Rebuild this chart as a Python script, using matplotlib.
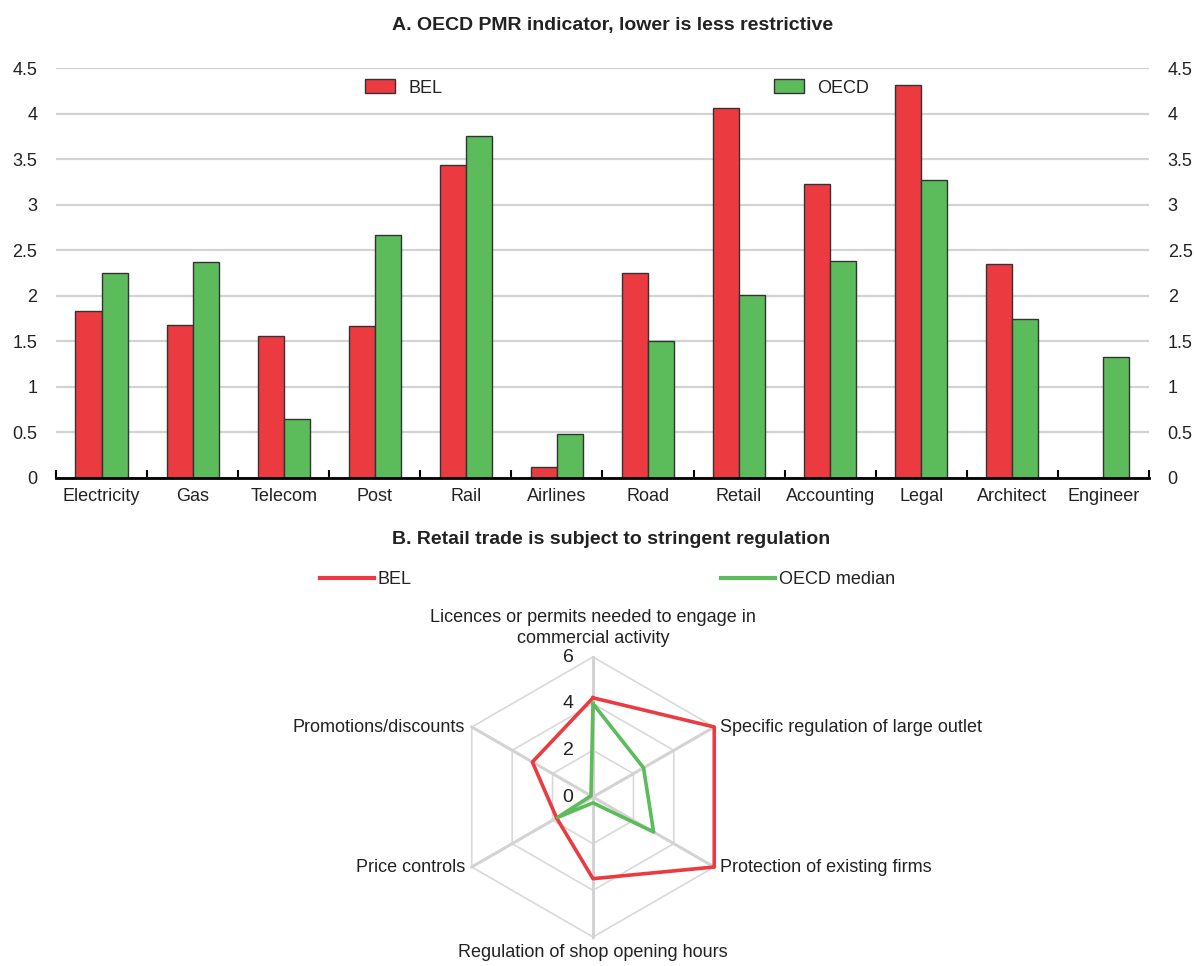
import numpy as np
import matplotlib
matplotlib.use("Agg")
import matplotlib.pyplot as plt
from matplotlib.patches import Patch
from matplotlib.lines import Line2D

plt.rcParams['font.family'] = ['Liberation Sans Narrow', 'Liberation Sans', 'DejaVu Sans']
plt.rcParams['font.size'] = 13

# Datos panel A: indicador PMR por sector
sectores = ["Electricity", "Gas", "Telecom", "Post", "Rail", "Airlines",
            "Road", "Retail", "Accounting", "Legal", "Architect", "Engineer"]
pmr_bel = [1.83, 1.68, 1.56, 1.67, 3.44, 0.12, 2.25, 4.06, 3.23, 4.31, 2.35, 0.0]
pmr_oecd = [2.25, 2.37, 0.65, 2.67, 3.75, 0.48, 1.50, 2.01, 2.38, 3.27, 1.75, 1.33]
ticks_y = [0, 0.5, 1, 1.5, 2, 2.5, 3, 3.5, 4, 4.5]
etiquetas_y = ["0", "0.5", "1", "1.5", "2", "2.5", "3", "3.5", "4", "4.5"]

# Datos panel B: regulacion del comercio minorista
ejes_radar = ["Licences or permits needed to engage in\ncommercial activity",
              "Specific regulation of large outlet",
              "Protection of existing firms",
              "Regulation of shop opening hours",
              "Price controls",
              "Promotions/discounts"]
retail_bel = [4.25, 6.0, 6.0, 3.5, 1.8, 3.0]
retail_oecd = [4.0, 2.5, 3.0, 0.25, 1.75, 0.1]
niveles = [0, 2, 4, 6]

rojo = "#EC3A41"
verde = "#5CBB5A"
gris = "#D3D3D3"
texto_c = "#222222"

fig = plt.figure(figsize=(11.94, 9.66), dpi=100)

# ======================================================
# Panel A: barras
# ======================================================
ax = fig.add_axes([0.0469, 0.5052, 0.9154, 0.4244])
x = np.arange(len(sectores))
ancho = 0.286
ax.bar(x - ancho/2, pmr_bel, ancho, color=rojo, edgecolor="#333333", linewidth=1.0, zorder=3)
ax.bar(x + ancho/2, pmr_oecd, ancho, color=verde, edgecolor="#333333", linewidth=1.0, zorder=3)
ax.set_xlim(-0.5, len(sectores) - 0.5)
ax.set_ylim(0, 4.5)
ax.set_yticks(ticks_y)
ax.set_yticklabels(etiquetas_y)
ax.yaxis.grid(True, color=gris, linewidth=1.6, zorder=0)
ax.set_axisbelow(True)
ax.set_xticks(x)
ax.set_xticklabels(sectores)
ax.set_xticks(np.arange(len(sectores) + 1) - 0.5, minor=True)
ax.tick_params(axis="x", which="major", length=0, pad=7, labelcolor=texto_c)
ax.tick_params(axis="x", which="minor", direction="in", length=6, width=1.5, color="black")
ax.tick_params(axis="y", left=False, right=False, labelleft=True, labelright=True,
               pad=10, labelcolor=texto_c)
for lado in ["top", "left", "right"]:
    ax.spines[lado].set_visible(False)
ax.spines["bottom"].set_linewidth(2.0)
ax.spines["bottom"].set_zorder(4)

fig.text(613/1194, 0.974, "A. OECD PMR indicator, lower is less restrictive",
         ha="center", va="center", fontweight="bold", fontsize=14, color=texto_c)

for nombre, color, xl in [("BEL", rojo, 365/1194), ("OECD", verde, 774/1194)]:
    leg = fig.legend(handles=[Patch(facecolor=color, edgecolor="#333333", linewidth=1.0, label=nombre)],
                     loc="center left", bbox_to_anchor=(xl, 1 - 88/966), frameon=False,
                     borderpad=0, borderaxespad=0, handlelength=1.65, handleheight=0.83,
                     handletextpad=0.75, fontsize=13, labelcolor=texto_c)

# ======================================================
# Panel B: radar
# ======================================================
fig.text(611/1194, 1 - 540/966, "B. Retail trade is subject to stringent regulation",
         ha="center", va="center", fontweight="bold", fontsize=14, color=texto_c)

for nombre, color, xl in [("BEL", rojo, 320/1194), ("OECD median", verde, 721/1194)]:
    fig.legend(handles=[Line2D([], [], color=color, linewidth=3.0, label=nombre)],
               loc="center left", bbox_to_anchor=(xl, 1 - 580/966), frameon=False,
               borderpad=0, borderaxespad=0, handlelength=3.0, handletextpad=0.2,
               fontsize=13, labelcolor=texto_c)

axr = fig.add_axes([453/1194, 29/966, 280/1194, 280/966], projection="polar")
axr.set_theta_offset(np.pi/2)
axr.set_theta_direction(-1)
axr.set_ylim(0, 6)
axr.set_axis_off()

angulos = np.arange(len(ejes_radar)) * 2*np.pi/len(ejes_radar)
cerrado = np.append(angulos, angulos[0])

for r in niveles[1:]:
    axr.plot(cerrado, [r]*len(cerrado), color="#D9D9D9", linewidth=1.2, clip_on=False, zorder=1)
for a in angulos:
    axr.plot([a, a], [0, 6], color=gris, linewidth=2.2, clip_on=False, zorder=1)

axr.plot(cerrado, np.append(retail_bel, retail_bel[0]), color=rojo, linewidth=2.6,
         clip_on=False, zorder=3)
axr.plot(cerrado, np.append(retail_oecd, retail_oecd[0]), color=verde, linewidth=2.6,
         clip_on=False, zorder=4)

for r in niveles:
    axr.annotate(str(r), xy=(0, r), xytext=(-14, 0), textcoords="offset points",
                 ha="right", va="center", fontsize=14, color=texto_c)

posiciones = [((0, 7), "center", "bottom"),
              ((4, 0), "left", "center"),
              ((4, 0), "left", "center"),
              ((0, -5), "center", "top"),
              ((-5, 0), "right", "center"),
              ((-5, 0), "right", "center")]
for a, texto, (off, ha, va) in zip(angulos, ejes_radar, posiciones):
    axr.annotate(texto, xy=(a, 6), xytext=off, textcoords="offset points",
                 ha=ha, va=va, fontsize=13, color=texto_c, linespacing=1.35,
                 annotation_clip=False)

fig.savefig("out.png", dpi=100)
